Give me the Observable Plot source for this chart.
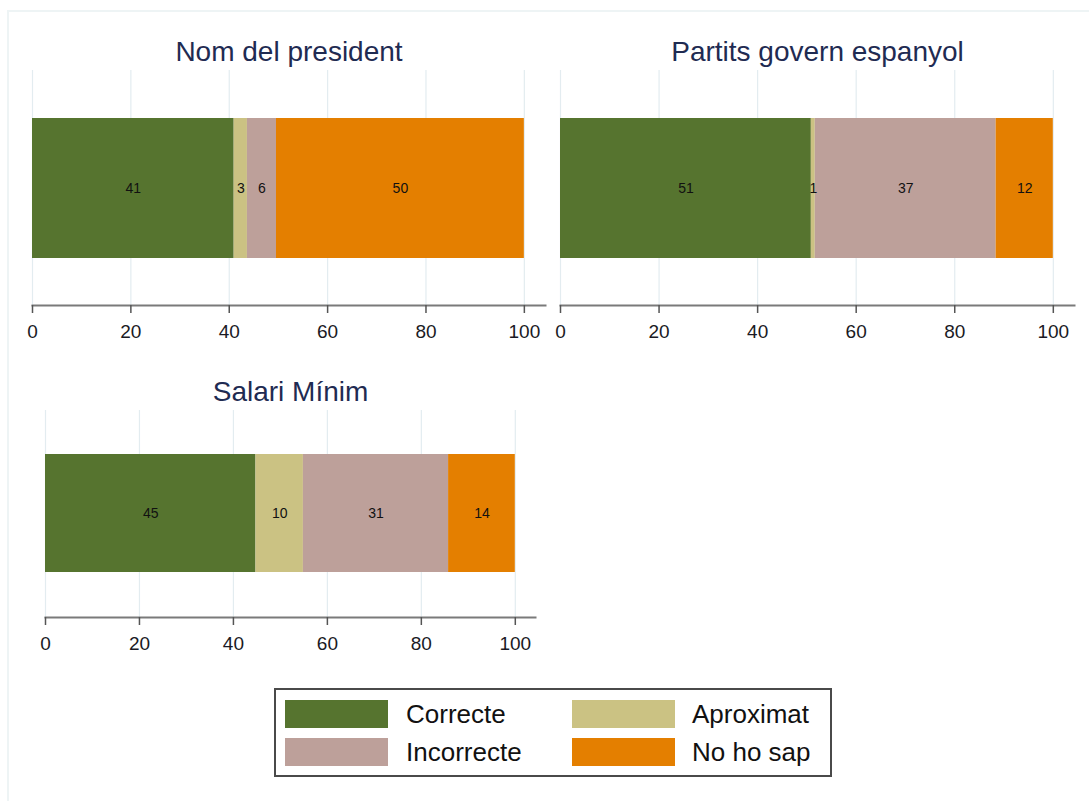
<!DOCTYPE html>
<html>
<head>
<meta charset="utf-8">
<script src="https://cdn.jsdelivr.net/npm/d3@7"></script>
<script src="https://cdn.jsdelivr.net/npm/@observablehq/plot@0.6"></script>
<style>
  html, body { margin: 0; padding: 0; background: #fff; }
  #root { position: relative; width: 1089px; height: 801px; overflow: hidden; background: #fff;
          font-family: "Liberation Sans", Arial, sans-serif; }
  #frame { position: absolute; left: 7px; top: 10px; width: 1100px; height: 800px;
           border-top: 2px solid #eef4f5; border-left: 2px solid #eef4f5; }
  .panel { position: absolute; }
  #legend { position: absolute; left: 274px; top: 688px; width: 554px; height: 85px;
            border: 2px solid #4a4a4a; background: #fff; }
  .sw { position: absolute; width: 103px; height: 28px; }
  .lt { position: absolute; font-size: 26px; color: #111; line-height: 28px; white-space: nowrap; }
</style>
</head>
<body>
<div id="root">
  <div id="frame"></div>
</div>
<script>
// ---- data ----
const categories = ["Correcte", "Aproximat", "Incorrecte", "No ho sap"];
const colors = ["#56742f", "#cbc283", "#bda09a", "#e47f00"];
const panelTitles = ["Nom del president", "Partits govern espanyol", "Salari Mínim"];
const valuesPresident = [41.0, 2.7, 5.9, 50.4];
const valuesPartits = [50.9, 0.8, 36.7, 11.6];
const valuesSalari = [44.8, 10.1, 30.9, 14.2];
const xTicks = [0, 20, 40, 60, 80, 100];
const xMax = 104.3;

const panels = [
  {title: panelTitles[0], values: valuesPresident, left: 0, top: 0, width: 560, height: 345,
   marginLeft: 32, marginRight: 15, marginTop: 70, marginBottom: 40, padding: 0.2533},
  {title: panelTitles[1], values: valuesPartits, left: 540, top: 0, width: 549, height: 345,
   marginLeft: 20, marginRight: 15, marginTop: 70, marginBottom: 40, padding: 0.2533},
  {title: panelTitles[2], values: valuesSalari, left: 0, top: 340, width: 560, height: 320,
   marginLeft: 45, marginRight: 25, marginTop: 70, marginBottom: 43, padding: 0.27}
];

const root = document.getElementById("root");

for (const p of panels) {
  const rows = categories.map((c, i) => ({panel: p.title, cat: c, value: p.values[i]}));
  const chart = Plot.plot({
    width: p.width,
    height: p.height,
    marginLeft: p.marginLeft,
    marginRight: p.marginRight,
    marginTop: p.marginTop,
    marginBottom: p.marginBottom,
    style: {fontFamily: '"Liberation Sans", Arial, sans-serif', fontSize: "19px",
            background: "transparent", overflow: "visible"},
    x: {domain: [0, xMax], label: null},
    y: {domain: [p.title], padding: p.padding, axis: null, label: null},
    color: {domain: categories, range: colors},
    marks: [
      Plot.gridX(xTicks, {stroke: "#e3ecf0", strokeOpacity: 1, strokeWidth: 1.2}),
      Plot.barX(rows, Plot.stackX({x: "value", y: "panel", fill: "cat", order: categories})),
      Plot.text(rows, Plot.stackX({x: "value", y: "panel", z: "cat", order: categories,
        text: d => String(Math.round(d.value)), fill: "#111", fontSize: 14})),
      Plot.frame({anchor: "bottom", stroke: "#7a7a7a", strokeWidth: 2}),
      Plot.axisX({ticks: xTicks, label: null, tickSize: 8, tickPadding: 11, fontSize: 19, stroke: "#555",
        strokeWidth: 1.5, color: "#1a1a24", tickFormat: d => String(d)}),
      Plot.text([p.title], {frameAnchor: "top", dy: -18, fontSize: 28, fill: "#1f2b52",
        lineAnchor: "middle"})
    ]
  });
  const div = document.createElement("div");
  div.className = "panel";
  div.style.left = p.left + "px";
  div.style.top = p.top + "px";
  div.appendChild(chart);
  root.appendChild(div);
}

// ---- legend ----
const legend = document.createElement("div");
legend.id = "legend";
categories.forEach((c, i) => {
  const col = i % 2, row = Math.floor(i / 2);
  const sw = document.createElement("div");
  sw.className = "sw";
  sw.style.left = (9 + col * 287) + "px";
  sw.style.top = (10 + row * 38) + "px";
  sw.style.background = colors[i];
  legend.appendChild(sw);
  const t = document.createElement("div");
  t.className = "lt";
  t.style.left = (130 + col * 286) + "px";
  t.style.top = (10 + row * 38) + "px";
  t.textContent = c;
  legend.appendChild(t);
});
root.appendChild(legend);
</script>
</body>
</html>
